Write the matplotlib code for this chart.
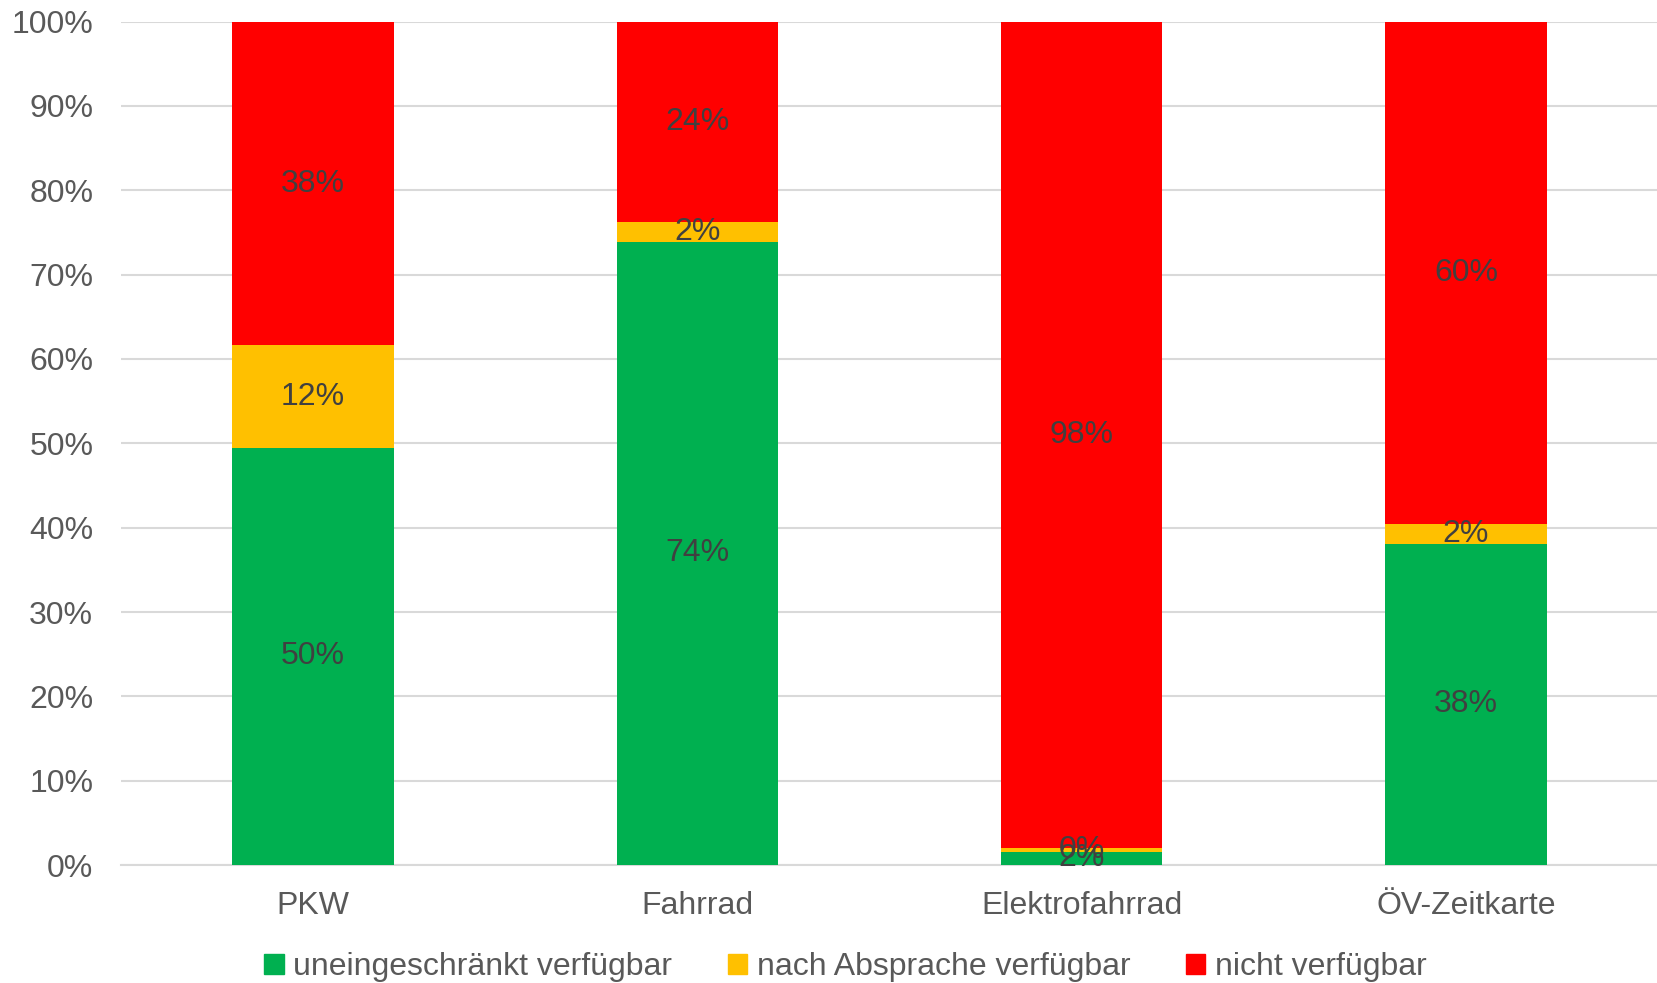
import matplotlib.pyplot as plt
import numpy as np
from matplotlib.patches import Patch

plt.rcParams['font.family'] = ['Liberation Sans', 'DejaVu Sans']

categories = ['PKW', 'Fahrrad', 'Elektrofahrrad', 'ÖV-Zeitkarte']
series_names = ['uneingeschränkt verfügbar', 'nach Absprache verfügbar', 'nicht verfügbar']
uneingeschraenkt = [49.5, 73.9, 1.6, 38.1]
nach_absprache = [12.1, 2.4, 0.4, 2.3]
nicht_verfuegbar = [38.4, 23.7, 98.0, 59.6]
colors = ['#00B050', '#FFC000', '#FF0000']

fig = plt.figure(figsize=(16.58, 9.83), dpi=100)
ax = fig.add_axes([0.073, 0.12, 0.927, 0.858])

x = np.arange(len(categories))
bottom = np.zeros(len(categories))
for vals, col in zip([uneingeschraenkt, nach_absprache, nicht_verfuegbar], colors):
    vals = np.array(vals)
    ax.bar(x, vals, 0.42, bottom=bottom, color=col, zorder=3)
    for xi, b, v in zip(x, bottom, vals):
        ax.text(xi, b + v / 2, '{:.0f}%'.format(v), ha='center', va='center',
                fontsize=23, color='#404040', zorder=4)
    bottom += vals

ax.set_xlim(-0.5, 3.5)
ax.set_ylim(0, 100)
ax.set_yticks(np.arange(0, 101, 10))
ax.set_yticklabels(['{}%'.format(v) for v in range(0, 101, 10)])
ax.set_xticks(x)
ax.set_xticklabels(categories)
ax.tick_params(axis='both', length=0, labelsize=23, labelcolor='#595959')
ax.tick_params(axis='x', pad=19)
ax.tick_params(axis='y', pad=20)
ax.grid(axis='y', color='#D9D9D9', linewidth=1.5, zorder=0)
for s in ['top', 'right', 'left']:
    ax.spines[s].set_visible(False)
ax.spines['bottom'].set_color('#D9D9D9')
ax.spines['bottom'].set_linewidth(1.5)

handles = [Patch(color=c) for c in colors]
fig.legend(handles, series_names, loc='center', bbox_to_anchor=(0.51, 0.016),
           ncol=3, frameon=False, fontsize=23, labelcolor='#595959',
           handlelength=0.6, handleheight=0.6, handletextpad=0.3, columnspacing=1.75)

fig.savefig('out.png', dpi=100)
